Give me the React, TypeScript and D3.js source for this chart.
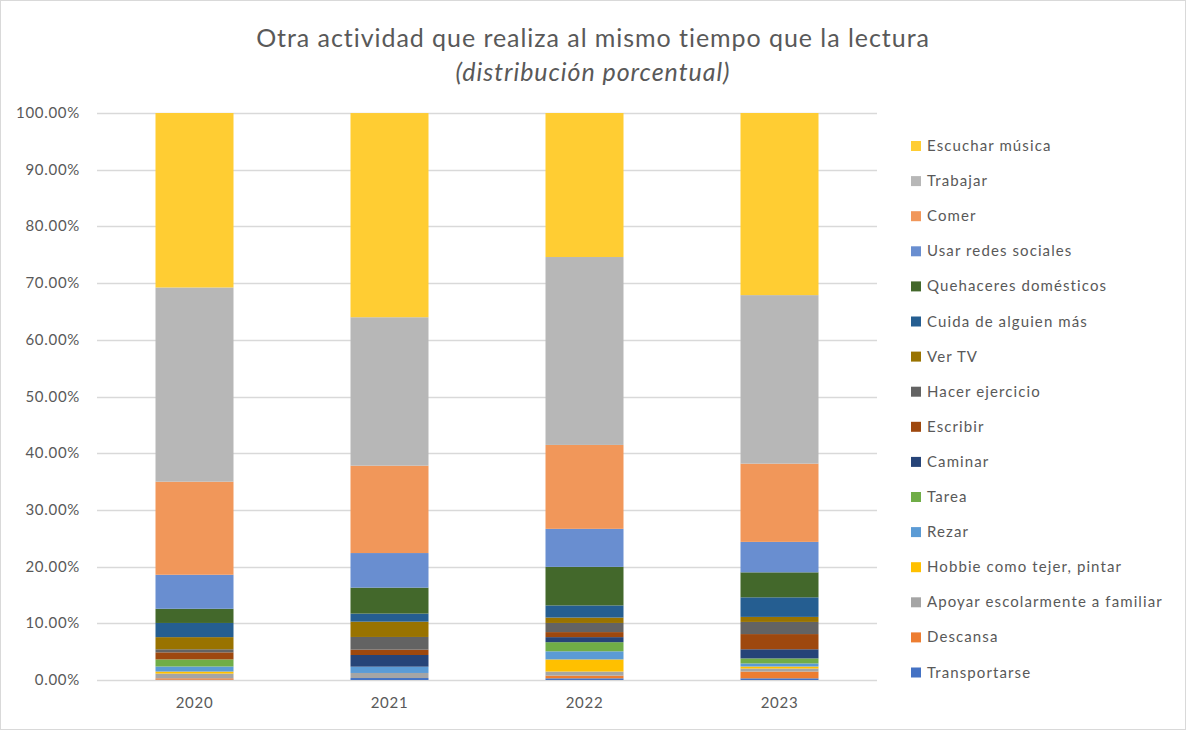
import React, { useEffect, useRef } from 'react';
import * as d3 from 'd3';

// Years on the x axis
const years = ['2020', '2021', '2022', '2023'];

// Series, bottom of the stack first (percent of each year)
const transportarse = [0.05, 0.35, 0.3, 0.3];
const descansa = [0.25, 0.0, 0.47, 1.19];
const apoyar = [0.83, 0.89, 0.72, 0.53];
const hobbie = [0.36, 0.0, 2.14, 0.36];
const rezar = [0.89, 1.11, 1.43, 0.54];
const tarea = [1.25, 0.0, 1.61, 0.89];
const caminar = [0.0, 2.06, 0.89, 1.61];
const escribir = [1.25, 0.94, 0.89, 2.68];
const ejercicio = [0.54, 2.24, 1.61, 2.14];
const verTv = [2.14, 2.7, 0.95, 0.89];
const cuida = [2.5, 1.42, 2.14, 3.45];
const quehaceres = [2.5, 4.58, 6.8, 4.41];
const redes = [6.0, 6.1, 6.71, 5.37];
const comer = [16.42, 15.41, 14.8, 13.8];
const trabajar = [34.25, 26.18, 33.14, 29.72];
const musica = [30.77, 36.01, 25.4, 32.12];

const seriesNames = [
  'Transportarse',
  'Descansa',
  'Apoyar escolarmente a familiar',
  'Hobbie como tejer, pintar',
  'Rezar',
  'Tarea',
  'Caminar',
  'Escribir',
  'Hacer ejercicio',
  'Ver TV',
  'Cuida de alguien más',
  'Quehaceres domésticos',
  'Usar redes sociales',
  'Comer',
  'Trabajar',
  'Escuchar música'
];
const seriesValues = [
  transportarse, descansa, apoyar, hobbie, rezar, tarea, caminar, escribir,
  ejercicio, verTv, cuida, quehaceres, redes, comer, trabajar, musica
];
const seriesColors = [
  '#4472C4', '#ED7D31', '#A5A5A5', '#FFC000', '#5B9BD5', '#70AD47', '#264478', '#9E480E',
  '#636363', '#997300', '#255E91', '#43682B', '#698ED0', '#F1975A', '#B7B7B7', '#FFCD33'
];

const yTicks = [0, 10, 20, 30, 40, 50, 60, 70, 80, 90, 100];

const App: React.FC = () => {
  const svgRef = useRef<SVGSVGElement>(null);
  const width = 1186;
  const height = 730;
  const margin = { top: 113, right: 309, bottom: 50, left: 97 };

  useEffect(() => {
    document.body.style.margin = '0';
    if (!svgRef.current) return;

    d3.select(svgRef.current).selectAll('*').remove();

    const svg = d3.select(svgRef.current)
      .attr('width', width)
      .attr('height', height)
      .style('font-family', 'Lato, "Open Sans", sans-serif');

    // Chart border
    svg.append('rect')
      .attr('x', 0.5)
      .attr('y', 0.5)
      .attr('width', width - 1)
      .attr('height', height - 1)
      .attr('fill', '#fff')
      .attr('stroke', '#D9D9D9');

    const xScale = d3.scaleBand()
      .domain(years)
      .range([margin.left, width - margin.right])
      .paddingInner(0.6)
      .paddingOuter(0.3);

    const yScale = d3.scaleLinear()
      .domain([0, 100])
      .range([height - margin.bottom, margin.top]);

    // Grid lines
    svg.append('g')
      .selectAll('line')
      .data(yTicks)
      .enter()
      .append('line')
      .attr('x1', margin.left)
      .attr('x2', width - margin.right)
      .attr('y1', d => Math.round(yScale(d)) + 0.5)
      .attr('y2', d => Math.round(yScale(d)) + 0.5)
      .attr('stroke', '#D9D9D9')
      .attr('stroke-width', 1.3);

    // Y axis labels
    svg.append('g')
      .selectAll('text')
      .data(yTicks)
      .enter()
      .append('text')
      .attr('x', 80)
      .attr('y', d => yScale(d) + 5)
      .attr('text-anchor', 'end')
      .style('font-size', '15px')
      .style('letter-spacing', '0.7px')
      .style('fill', '#595959')
      .text(d => d.toFixed(2) + '%');

    // X axis labels
    svg.append('g')
      .selectAll('text')
      .data(years)
      .enter()
      .append('text')
      .attr('x', d => (xScale(d) || 0) + xScale.bandwidth() / 2)
      .attr('y', 708)
      .attr('text-anchor', 'middle')
      .style('font-size', '15px')
      .style('letter-spacing', '0.7px')
      .style('fill', '#595959')
      .text(d => d);

    // Stack the series
    const table = years.map((year, i) => {
      const row: Record<string, number | string> = { year };
      seriesNames.forEach((name, s) => { row[name] = seriesValues[s][i]; });
      return row;
    });
    const stacked = d3.stack<Record<string, number | string>>()
      .keys(seriesNames)
      .value((d, key) => d[key] as number)(table);

    svg.append('g')
      .selectAll('g')
      .data(stacked)
      .enter()
      .append('g')
      .attr('fill', (_, i) => seriesColors[i])
      .selectAll('rect')
      .data(d => d)
      .enter()
      .append('rect')
      .attr('x', d => xScale(d.data.year as string) || 0)
      .attr('width', xScale.bandwidth())
      .attr('y', d => yScale(d[1]))
      .attr('height', d => yScale(d[0]) - yScale(d[1]));

    // Title
    svg.append('text')
      .attr('x', 593)
      .attr('y', 47)
      .attr('text-anchor', 'middle')
      .style('font-size', '25px')
      .style('letter-spacing', '0.95px')
      .style('fill', '#595959')
      .text('Otra actividad que realiza al mismo tiempo que la lectura');

    svg.append('text')
      .attr('x', 593)
      .attr('y', 81)
      .attr('text-anchor', 'middle')
      .style('font-size', '25px')
      .style('letter-spacing', '0.95px')
      .style('font-style', 'italic')
      .style('fill', '#595959')
      .text('(distribución porcentual)');

    // Legend, top entry is the top of the stack
    const legendOrder = seriesNames.map((name, i) => ({ name, color: seriesColors[i] })).reverse();
    const legend = svg.append('g')
      .attr('transform', 'translate(911,141)');

    const rows = legend.selectAll('g')
      .data(legendOrder)
      .enter()
      .append('g')
      .attr('transform', (_, i) => `translate(0,${i * 35.1})`);

    rows.append('rect')
      .attr('width', 10)
      .attr('height', 10)
      .attr('fill', d => d.color);

    rows.append('text')
      .attr('x', 16)
      .attr('y', 10)
      .style('font-size', '15px')
      .style('letter-spacing', '1.1px')
      .style('fill', '#595959')
      .text(d => d.name);
  }, []);

  return (
    <div>
      <svg ref={svgRef}></svg>
    </div>
  );
};

export default App;
